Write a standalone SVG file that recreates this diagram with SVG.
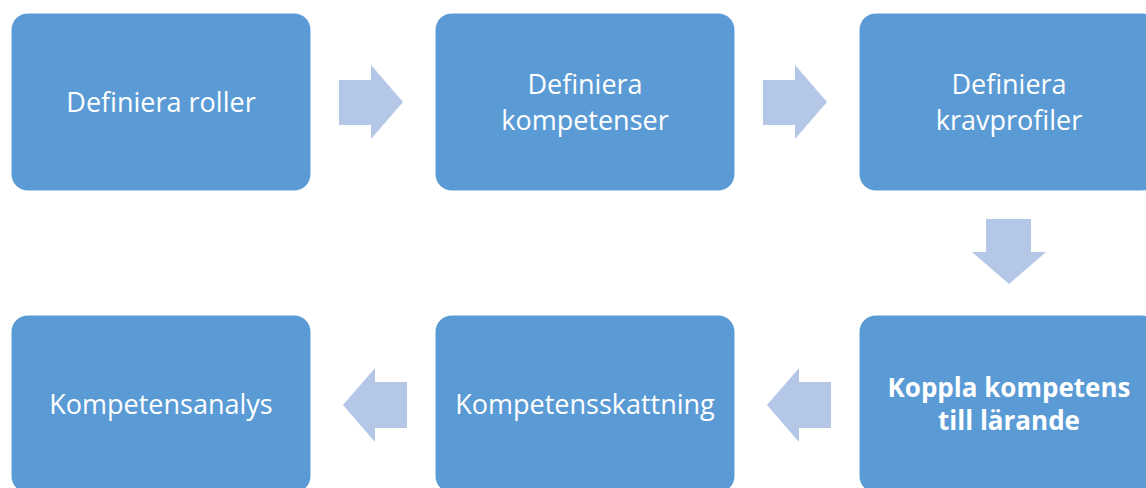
<svg xmlns="http://www.w3.org/2000/svg" width="1146" height="488" viewBox="0 0 1146 488">
<style>
.box{fill:#5B9BD5;stroke:#FFFFFF;stroke-width:1}
.arr{fill:#B4C7E7}
.t{font-family:"Open Sans","Noto Sans","Liberation Sans",sans-serif;font-size:27px;fill:#FFFFFF;text-anchor:middle}
.b{font-weight:bold;font-size:26px}
</style>
<rect width="1146" height="488" fill="#FFFFFF"/>
<g id="connectors">
<polygon class="arr" points="339,80 371,80 371,65 403,102 371,139 371,125 339,125"/>
<polygon class="arr" points="763,80 795,80 795,65 827,102 795,139 795,125 763,125"/>
<polygon class="arr" points="986,219 1031,219 1031,252 1046,252 1009,284 972,252 986,252"/>
<polygon class="arr" points="831,382 799,382 799,368 767,405 799,442 799,428 831,428"/>
<polygon class="arr" points="407,382 375,382 375,368 343,405 375,442 375,428 407,428"/>
</g>
<g id="n1"><rect class="box" x="11" y="13" width="300" height="178" rx="17"/><text class="t" x="161" y="112">Definiera roller</text></g>
<g id="n2"><rect class="box" x="435" y="13" width="300" height="178" rx="17"/><text class="t" x="585" y="94">Definiera</text><text class="t" x="585" y="130">kompetenser</text></g>
<g id="n3"><rect class="box" x="859" y="13" width="300" height="178" rx="17"/><text class="t" x="1009" y="94">Definiera</text><text class="t" x="1009" y="130">kravprofiler</text></g>
<g id="n4"><rect class="box" x="859" y="315" width="300" height="178" rx="17"/><text class="t b" x="1009" y="397">Koppla kompetens</text><text class="t b" x="1009" y="430">till lärande</text></g>
<g id="n5"><rect class="box" x="435" y="315" width="300" height="178" rx="17"/><text class="t" x="585" y="414">Kompetensskattning</text></g>
<g id="n6"><rect class="box" x="11" y="315" width="300" height="178" rx="17"/><text class="t" x="161" y="414">Kompetensanalys</text></g>
</svg>
